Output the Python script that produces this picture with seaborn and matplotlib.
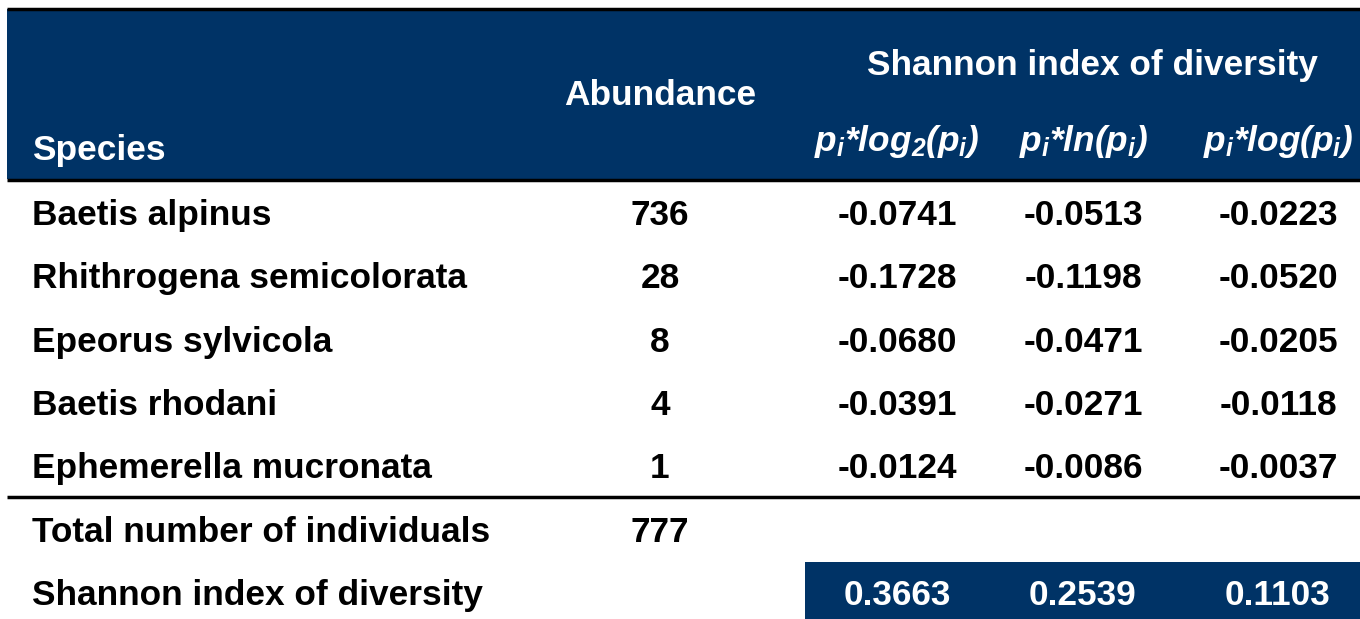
import matplotlib
matplotlib.use('Agg')
import matplotlib.pyplot as plt
import seaborn as sns

# table data
species = ['Baetis alpinus', 'Rhithrogena semicolorata', 'Epeorus sylvicola',
           'Baetis rhodani', 'Ephemerella mucronata']
abundance = [736, 28, 8, 4, 1]
log2_terms = ['-0.0741', '-0.1728', '-0.0680', '-0.0391', '-0.0124']
ln_terms = ['-0.0513', '-0.1198', '-0.0471', '-0.0271', '-0.0086']
log10_terms = ['-0.0223', '-0.0520', '-0.0205', '-0.0118', '-0.0037']
total_label = 'Total number of individuals'
total = 777
shannon_label = 'Shannon index of diversity'
shannon = ['0.3663', '0.2539', '0.1103']
sub_headers = [r'$p_i$*log$_2$($p_i$)', r'$p_i$*ln($p_i$)', r'$p_i$*log($p_i$)']

sns.set_theme(style='white')
plt.rcParams['font.family'] = ['Liberation Sans', 'DejaVu Sans']
plt.rcParams['text.color'] = 'black'
plt.rcParams['mathtext.fontset'] = 'custom'
plt.rcParams['mathtext.it'] = 'Liberation Sans:italic:bold'
plt.rcParams['mathtext.rm'] = 'Liberation Sans:italic:bold'

navy = '#003366'
fs = 25.4

fig = plt.figure(figsize=(13.6, 6.19), dpi=100)
ax = fig.add_axes([0, 0, 1, 1])
ax.set_xlim(0, 1360)
ax.set_ylim(619, 0)
ax.axis('off')

# header band
ax.fill_between([7, 1360], 9, 179, color=navy, lw=0)
ax.plot([7, 1360], [8.5, 8.5], color='black', lw=2.5, solid_capstyle='butt')
ax.plot([7, 1360], [179.5, 179.5], color='black', lw=2.5, solid_capstyle='butt')

ax.text(32, 150.5, 'Species', color='white', fontsize=fs, fontweight='bold', va='center')
ax.text(660, 95.5, 'Abundance', color='white', fontsize=fs, fontweight='bold', va='center', ha='center')
ax.text(1092, 65, 'Shannon index of diversity', color='white', fontsize=fs,
        fontweight='bold', va='center', ha='center')

col_x = [897, 1083, 1278]
for x, h in zip(col_x, sub_headers):
    ax.text(x, 142, h, color='white', fontsize=fs, fontweight='bold', fontstyle='italic',
            va='center', ha='center')

row_y0, row_h = 215.5, 63.3
for i, name in enumerate(species):
    y = row_y0 + i * row_h
    ax.text(32, y, name, fontsize=fs, fontweight='bold', va='center')
    ax.text(660, y, str(abundance[i]), fontsize=fs, fontweight='bold', va='center', ha='center')
    for x, v in zip(col_x, [log2_terms[i], ln_terms[i], log10_terms[i]]):
        ax.text(x, y, v, fontsize=fs, fontweight='bold', va='center', ha='center')

ax.plot([7, 1360], [497, 497], color='black', lw=2.5, solid_capstyle='butt')

y_tot = row_y0 + 5 * row_h
ax.text(32, y_tot, total_label, fontsize=fs, fontweight='bold', va='center')
ax.text(660, y_tot, str(total), fontsize=fs, fontweight='bold', va='center', ha='center')

y_sh = row_y0 + 6 * row_h
ax.fill_between([805, 1360], 562, 619, color=navy, lw=0)
ax.text(32, y_sh, shannon_label, fontsize=fs, fontweight='bold', va='center')
for x, v in zip(col_x, shannon):
    ax.text(x, y_sh, v, fontsize=fs, fontweight='bold', va='center', ha='center', color='white')

fig.savefig('out.png', dpi=100)
